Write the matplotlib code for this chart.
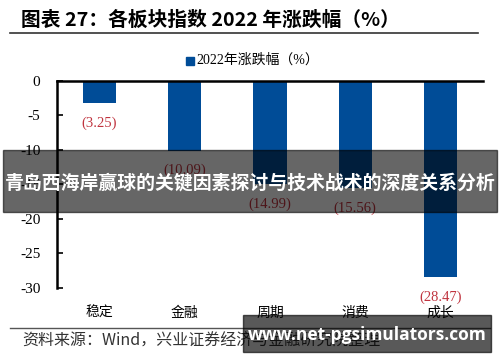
import matplotlib
matplotlib.use("Agg")
import matplotlib.pyplot as plt
from matplotlib.patches import Rectangle

plt.rcParams['font.family'] = ['Noto Sans CJK SC', 'DejaVu Sans']

# data
sectors = ['稳定', '金融', '周期', '消费', '成长']
change_2022 = [-3.25, -10.09, -14.99, -15.56, -28.47]
yticks = [0, -5, -10, -15, -20, -25, -30]

bar_color = '#004C97'
label_color = '#C0343F'
serif = ['Liberation Serif', 'Noto Sans CJK SC']

fig = plt.figure(figsize=(5, 3.62), dpi=100)
ax = fig.add_axes([0.114, 0.2044, 0.852, 0.572])

x = range(len(sectors))
ax.bar(x, change_2022, width=0.39, color=bar_color, zorder=2)
for i, v in zip(x, change_2022):
    ax.annotate('(%.2f)' % abs(v), (i, v), xytext=(0, -20), textcoords='offset pixels',
                ha='center', va='center', color=label_color, fontsize=10.5, family=serif)

ax.set_xlim(-0.5, len(sectors) - 0.5)
ax.set_ylim(-30, 0)
ax.set_yticks(yticks)
ax.set_yticklabels([str(t) for t in yticks], family=serif, fontsize=11)
ax.set_xticks(list(x))
ax.set_xticklabels(sectors, fontsize=10)
ax.tick_params(axis='x', length=0, pad=13)
ax.tick_params(axis='y', direction='in', length=4, width=1.2, pad=12)
for s in ['right', 'bottom']:
    ax.spines[s].set_visible(False)
ax.spines['left'].set_linewidth(1.8)
ax.spines['top'].set_linewidth(1.8)

# legend
fig.patches.append(Rectangle((186 / 500, 1 - 65 / 362), 8 / 500, 8 / 362,
                             transform=fig.transFigure, color=bar_color))
fig.text(196 / 500, 1 - 60 / 362, '2022年涨跌幅（%）', fontsize=10, va='center', ha='left',
         family=['Liberation Serif', 'Noto Sans CJK SC'])

# title and rules
fig.text(21 / 500, 1 - 20 / 362, '图表 27：各板块指数 2022 年涨跌幅（%）', fontsize=14.2,
         fontweight='bold', va='center', ha='left')
fig.add_artist(plt.Line2D([10 / 500, 478 / 500], [1 - 33 / 362, 1 - 33 / 362],
                          color='#333333', lw=1.2, transform=fig.transFigure))
fig.add_artist(plt.Line2D([10 / 500, 490 / 500], [1 - 328 / 362, 1 - 328 / 362],
                          color='#555555', lw=1.0, transform=fig.transFigure))
fig.text(22 / 500, 1 - 341 / 362, '资料来源：Wind，兴业证券经济与金融研究院整理', fontsize=11.5,
         va='center', ha='left', color='#333333')

# banner overlay
fig.patches.append(Rectangle((3 / 500, 1 - 212 / 362), 494 / 500, 62 / 362,
                             transform=fig.transFigure, color='black', alpha=0.6, zorder=5))
fig.text(0.5, 1 - 183 / 362, '青岛西海岸赢球的关键因素探讨与技术战术的深度关系分析', fontsize=13.6,
         fontweight='bold', color='white', ha='center', va='center', zorder=6)

# watermark
fig.patches.append(Rectangle((243 / 500, 1 - 352 / 362), 248 / 500, 37 / 362,
                             transform=fig.transFigure, color='black', alpha=0.65, zorder=5))
fig.text(367 / 500, 1 - 335 / 362, 'www.net-pgsimulators.com', fontsize=12.5,
         fontweight='bold', color='white', ha='center', va='center', zorder=6,
         family=['Open Sans', 'DejaVu Sans'])

fig.savefig('out.png', dpi=100)
